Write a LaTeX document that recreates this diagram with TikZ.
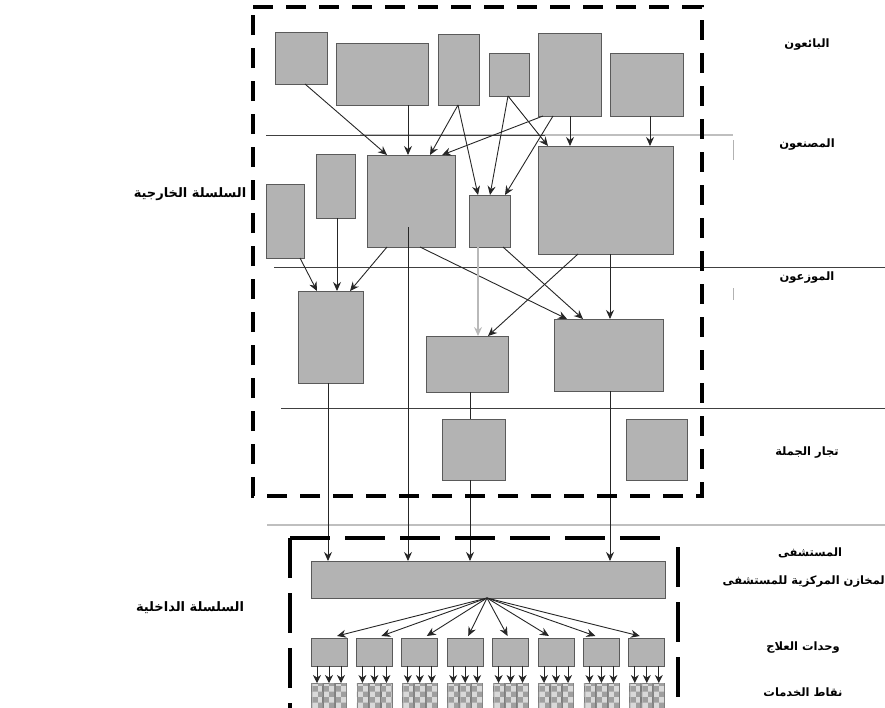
\documentclass[tikz,border=0pt]{standalone}
\usepackage{fontspec}
\usetikzlibrary{arrows.meta,calc,patterns}
\newfontfamily\arabicfont[Script=Arabic]{DejaVu Sans}
\TeXXeTstate=1
\definecolor{boxfill}{HTML}{B3B3B3}
\definecolor{boxline}{HTML}{5A5A5A}
\tikzset{
  box/.style={draw=boxline, fill=boxfill, line width=1pt, inner sep=0pt, outer sep=0pt},
  svc/.style={draw=boxline!80, line width=0.6pt, fill=gray!30, inner sep=0pt, outer sep=0pt,
              postaction={pattern=checkerboard, pattern color=gray!75}},
  arr/.style={-{Stealth[length=9pt,width=8pt,inset=3pt]}, line width=0.9pt, black!85},
  arrsm/.style={-{Stealth[length=8pt,width=8pt,inset=2.5pt]}, line width=0.9pt, black!85},
  plainline/.style={line width=0.9pt, black!85},
  grayarr/.style={-{Stealth[length=9pt,width=8pt,inset=3pt]}, line width=2pt, gray!55},
  sepdark/.style={line width=1pt, black!75},
  seplight/.style={line width=2.5pt, gray!50},
  outerdash/.style={line width=4pt, black, dash pattern=on 20pt off 13pt},
  innerdash/.style={line width=4pt, black, dash pattern=on 40pt off 15pt},
  lbl/.style={font=\arabicfont\bfseries\fontsize{11.5}{13}\selectfont, inner sep=0pt},
  biglbl/.style={font=\arabicfont\bfseries\fontsize{13}{15}\selectfont, inner sep=0pt},
}
\newcommand{\bx}[5]{\node[box, minimum width={(#4-#2)*1pt}, minimum height={(#5-#3)*1pt}] (#1) at ({(#2+#4)/2},{(#3+#5)/2}) {};}
\begin{document}
\begin{tikzpicture}[x=1pt,y=-1pt]
\useasboundingbox (0,0) rectangle (885,707);
% separator lines
\draw[seplight] (360,135) -- (733,135);
\draw[sepdark] (266,135) -- (545,135);
\draw[sepdark] (274,267) -- (885,267);
\draw[sepdark] (281,408) -- (885,408);
\draw[seplight] (267,525) -- (885,525);
\draw[gray!60, line width=0.8pt] (733,140) -- (733,160);
\draw[gray!60, line width=0.8pt] (733,288) -- (733,300);
% vendors
\bx{A}{275}{32}{327}{84}
\bx{B}{336}{43}{428}{105}
\bx{C}{438}{34}{479}{105}
\bx{D}{489}{53}{529}{96}
\bx{E}{538}{33}{601}{116}
\bx{F}{610}{53}{683}{116}
% manufacturers
\bx{G}{266}{184}{304}{258}
\bx{H}{316}{154}{355}{218}
\bx{I}{367}{155}{455}{247}
\bx{J}{469}{195}{510}{247}
\bx{K}{538}{146}{673}{254}
% distributors
\bx{L}{298}{291}{363}{383}
\bx{M}{426}{336}{508}{392}
\bx{N}{554}{319}{663}{391}
% wholesalers
\bx{O}{442}{419}{505}{480}
\bx{P}{626}{419}{687}{480}
% hospital central storage
\bx{bar}{311}{561}{665}{598}
% vendor -> manufacturer arrows
\draw[arr] ($(A.south west)+(30,0)$) -- ($(I.north west)+(20,0)$);
\draw[arr] ($(B.south west)+(72,0)$) -- ($(I.north west)+(41,0)$);
\draw[arr] ($(C.south west)+(20,0)$) -- ($(I.north west)+(63,0)$);
\draw[arr] ($(C.south west)+(20,0)$) -- ($(J.north west)+(9,0)$);
\draw[arr] ($(E.south west)+(5,0)$) -- ($(I.north west)+(75,0)$);
\draw[arr] ($(D.south west)+(19,0)$) -- ($(J.north west)+(21,0)$);
\draw[arr] ($(D.south west)+(19,0)$) -- ($(K.north west)+(10,0)$);
\draw[arr] ($(E.south west)+(15,0)$) -- ($(J.north west)+(36,0)$);
\draw[arr] ($(E.south west)+(32,0)$) -- ($(K.north west)+(32,0)$);
\draw[arr] ($(F.south west)+(40,0)$) -- ($(K.north west)+(112,0)$);
% manufacturer -> distributor arrows
\draw[arr] ($(G.south west)+(34,0)$) -- ($(L.north west)+(19,0)$);
\draw[arr] ($(H.south west)+(21,0)$) -- ($(L.north west)+(39,0)$);
\draw[arr] ($(I.south west)+(20,0)$) -- ($(L.north west)+(52,0)$);
\draw[arr] ($(I.south west)+(53,0)$) -- ($(N.north west)+(13,0)$);
\draw[grayarr] ($(J.south west)+(9,0)$) -- ($(M.north west)+(52,0)$);
\draw[arr] ($(J.south west)+(34,0)$) -- ($(N.north west)+(29,0)$);
\draw[arr] ($(K.south west)+(40,0)$) -- ($(M.north west)+(62,0)$);
\draw[arr] ($(K.south west)+(72,0)$) -- ($(N.north west)+(56,0)$);
% to hospital
\draw[arr] ($(L.south west)+(30,0)$) -- ($(bar.north west)+(17,0)$);
\draw[arr] ($(I.south west)+(41,-20)$) -- ($(bar.north west)+(97,0)$);
\draw[plainline] ($(M.south west)+(44,0)$) -- ($(O.north west)+(28,0)$);
\draw[arr] ($(O.south west)+(28,0)$) -- ($(bar.north west)+(159,0)$);
\draw[arr] ($(N.south west)+(56,0)$) -- ($(bar.north west)+(299,0)$);
% treatment units and service points
\coordinate (fan) at ($(bar.south west)+(176,0)$);
\foreach \i/\o in {0/26,1/25,2/25,3/21,4/15,5/11,6/12,7/11} {
  \pgfmathsetmacro\ux{311+45.4*\i}
  \node[box, minimum width=36pt, minimum height=28pt] (u\i) at ({\ux+18},652) {};
  \draw[arr] (fan) -- ($(u\i.north west)+(\o,-2)$);
  \foreach \j in {0,1,2} {
    \node[svc, minimum width=11pt, minimum height=28pt] (s\i\j) at ({\ux+6+12*\j},697) {};
    \draw[arrsm] ($(u\i.south west)+({6+12*\j},0)$) -- (s\i\j.north);
  }
}
% dashed frames
\draw[outerdash] (253,7) -- (702,7) -- (702,496) -- (253,496) -- cycle;
\draw[innerdash] (290,538) -- (668,538);
\draw[innerdash] (290,538) -- (290,720);
\draw[innerdash] (678,547) -- (678,720);
% labels
\node[lbl] (t1) at (807,45) {\beginR البائعون\endR};
\node[lbl] (t2) at (807,145) {\beginR المصنعون\endR};
\node[lbl] (t3) at (807,278) {\beginR الموزعون\endR};
\node[lbl] (t4) at (807,453) {\beginR تجار الجملة\endR};
\node[lbl] (t5) at (810,553) {\beginR المستشفى\endR};
\node[lbl, anchor=east] (t6) at (885,582) {\beginR لمخازن المركزية للمستشفى\endR};
\node[lbl] (t7) at (803,648) {\beginR وحدات العلاج\endR};
\node[lbl] (t8) at (803,692) {\beginR نقاط الخدمات\endR};
\node[biglbl] (c1) at (190,194) {\beginR السلسلة الخارجية\endR};
\node[biglbl] (c2) at (190,608) {\beginR السلسلة الداخلية\endR};
\end{tikzpicture}
\end{document}
